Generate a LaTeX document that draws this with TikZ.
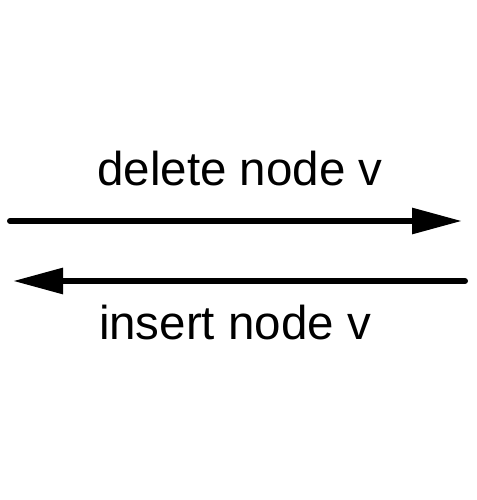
\documentclass[tikz,border=0pt]{standalone}
\usepackage{fontspec}
\setmainfont{Liberation Sans}
\usetikzlibrary{arrows.meta}

\begin{document}
\begin{tikzpicture}[x=1pt, y=1pt]
    \useasboundingbox (0,0) rectangle (476,500);
    % Labels
    \node[anchor=base, inner sep=0pt, font=\fontsize{47.5}{52}\selectfont] (deletelabel) at (240,314) {delete node v};
    \node[anchor=base, inner sep=0pt, font=\fontsize{47.5}{52}\selectfont] (insertlabel) at (235,160) {insert node v};
    
    % Ends of arrows
    \coordinate (delstart) at (10,279);
    \coordinate (delend) at (462,279);
    \coordinate (insstart) at (465,219);
    \coordinate (insend) at (13,219);
    
    % Arrows
    \draw[line width=6pt, line cap=round, -{Triangle[length=50pt, width=25pt]}] (delstart) -- (delend);
    \draw[line width=6pt, line cap=round, -{Triangle[length=50pt, width=25pt]}] (insstart) -- (insend);
\end{tikzpicture}
\end{document}
